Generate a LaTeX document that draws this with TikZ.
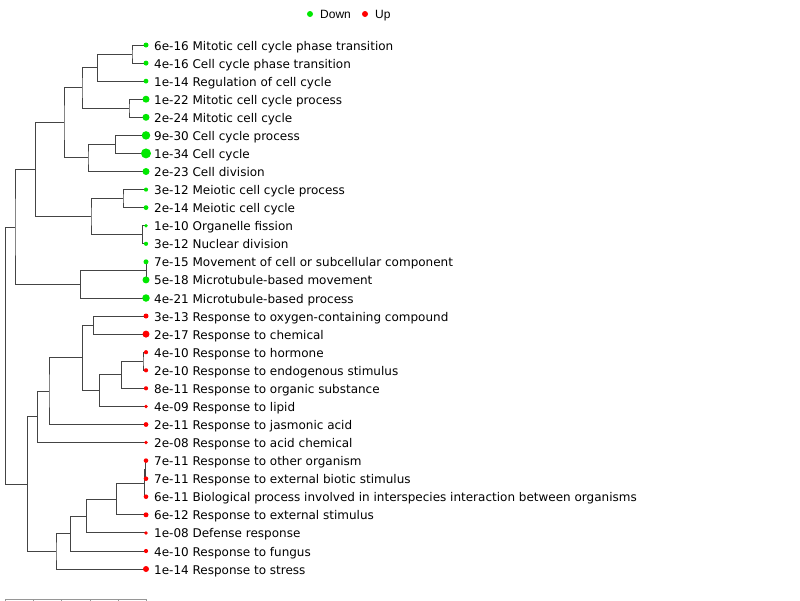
\documentclass[tikz,border=0pt]{standalone}
\usepackage{fontspec}
\setmainfont{DejaVu Sans}
\newfontfamily\legfont{Liberation Sans}
\usepackage{tikz}
\usetikzlibrary{backgrounds}
\definecolor{dngreen}{RGB}{0,232,0}
\definecolor{upred}{RGB}{255,0,0}
\definecolor{branch}{RGB}{68,68,68}
\definecolor{axisgray}{RGB}{150,150,150}

\begin{document}
\begin{tikzpicture}[x=1pt,y=-1pt,
  dot/.style={circle,inner sep=0pt,minimum size=#1},
  dnpt/.style={dot=#1,fill=dngreen},
  uppt/.style={dot=#1,fill=upred},
  term/.style={anchor=base west,inner sep=0pt,font=\fontsize{12}{14}\selectfont},
  legtxt/.style={anchor=base west,inner sep=0pt,font=\legfont\fontsize{12}{14}\selectfont},
  br/.style={draw=branch,line width=1pt}]
\useasboundingbox (0,0) rectangle (800,600);

% legend
\node[dnpt=6pt] (kdn) at (310,14) {};
\node[legtxt] (ldn) at (320,18.3) {Down};
\node[uppt=6pt] (kup) at (365,14) {};
\node[legtxt] (lup) at (375,18.3) {Up};

% down-regulated terms
\node[dnpt=5pt] (g1) at (146,45) {};
\node[term] (tg1) at (154,50) {6e-16 Mitotic cell cycle phase transition};
\node[dnpt=5pt] (g2) at (146,63.1) {};
\node[term] (tg2) at (154,68.1) {4e-16 Cell cycle phase transition};
\node[dnpt=4.8pt] (g3) at (146,81.1) {};
\node[term] (tg3) at (154,86.1) {1e-14 Regulation of cell cycle};
\node[dnpt=7pt] (g4) at (146,99.2) {};
\node[term] (tg4) at (154,104.2) {1e-22 Mitotic cell cycle process};
\node[dnpt=7pt] (g5) at (146,117.3) {};
\node[term] (tg5) at (154,122.3) {2e-24 Mitotic cell cycle};
\node[dnpt=8.5pt] (g6) at (146,135.4) {};
\node[term] (tg6) at (154,140.4) {9e-30 Cell cycle process};
\node[dnpt=10pt] (g7) at (146,153.4) {};
\node[term] (tg7) at (154,158.4) {1e-34 Cell cycle};
\node[dnpt=7pt] (g8) at (146,171.5) {};
\node[term] (tg8) at (154,176.5) {2e-23 Cell division};
\node[dnpt=4.2pt] (g9) at (146,189.6) {};
\node[term] (tg9) at (154,194.6) {3e-12 Meiotic cell cycle process};
\node[dnpt=4.8pt] (g10) at (146,207.6) {};
\node[term] (tg10) at (154,212.6) {2e-14 Meiotic cell cycle};
\node[dnpt=3.8pt] (g11) at (146,225.7) {};
\node[term] (tg11) at (154,230.7) {1e-10 Organelle fission};
\node[dnpt=4.2pt] (g12) at (146,243.8) {};
\node[term] (tg12) at (154,248.8) {3e-12 Nuclear division};
\node[dnpt=5pt] (g13) at (146,261.8) {};
\node[term] (tg13) at (154,266.8) {7e-15 Movement of cell or subcellular component};
\node[dnpt=7pt] (g14) at (146,279.9) {};
\node[term] (tg14) at (154,284.9) {5e-18 Microtubule-based movement};
\node[dnpt=7.5pt] (g15) at (146,298) {};
\node[term] (tg15) at (154,303) {4e-21 Microtubule-based process};

% up-regulated terms
\node[uppt=5pt] (r1) at (146,316) {};
\node[term] (tr1) at (154,321) {3e-13 Response to oxygen-containing compound};
\node[uppt=7pt] (r2) at (146,334.1) {};
\node[term] (tr2) at (154,339.1) {2e-17 Response to chemical};
\node[uppt=4.2pt] (r3) at (146,352.2) {};
\node[term] (tr3) at (154,357.2) {4e-10 Response to hormone};
\node[uppt=4.2pt] (r4) at (146,370.3) {};
\node[term] (tr4) at (154,375.3) {2e-10 Response to endogenous stimulus};
\node[uppt=4.2pt] (r5) at (146,388.3) {};
\node[term] (tr5) at (154,393.3) {8e-11 Response to organic substance};
\node[uppt=3.8pt] (r6) at (146,406.4) {};
\node[term] (tr6) at (154,411.4) {4e-09 Response to lipid};
\node[uppt=4.8pt] (r7) at (146,424.5) {};
\node[term] (tr7) at (154,429.5) {2e-11 Response to jasmonic acid};
\node[uppt=3.8pt] (r8) at (146,442.5) {};
\node[term] (tr8) at (154,447.5) {2e-08 Response to acid chemical};
\node[uppt=4.6pt] (r9) at (146,460.6) {};
\node[term] (tr9) at (154,465.6) {7e-11 Response to other organism};
\node[uppt=4.6pt] (r10) at (146,478.7) {};
\node[term] (tr10) at (154,483.7) {7e-11 Response to external biotic stimulus};
\node[uppt=4.6pt] (r11) at (146,496.7) {};
\node[term] (tr11) at (154,501.7) {6e-11 Biological process involved in interspecies interaction between organisms};
\node[uppt=5pt] (r12) at (146,514.8) {};
\node[term] (tr12) at (154,519.8) {6e-12 Response to external stimulus};
\node[uppt=3.8pt] (r13) at (146,532.9) {};
\node[term] (tr13) at (154,537.9) {1e-08 Defense response};
\node[uppt=4.2pt] (r14) at (146,551) {};
\node[term] (tr14) at (154,556) {4e-10 Response to fungus};
\node[uppt=6pt] (r15) at (146,569) {};
\node[term] (tr15) at (154,574) {1e-14 Response to stress};

% joins of the tree
\coordinate (jA) at (132,54);
\coordinate (jB) at (97.3,67.6);
\coordinate (jC) at (129,108.25);
\coordinate (jD) at (82,87.9);
\coordinate (jE) at (115.7,144.4);
\coordinate (jF) at (88,157.9);
\coordinate (jG) at (64,122.9);
\coordinate (jH) at (123,198.6);
\coordinate (jI) at (142.5,234.75);
\coordinate (jJ) at (91,216.7);
\coordinate (jK) at (35.7,169.8);
\coordinate (jL) at (146,270.85);
\coordinate (jM) at (80.7,284.4);
\coordinate (jN) at (15,227.1);
\coordinate (jO) at (93.3,325.05);
\coordinate (jP) at (143,361.25);
\coordinate (jQ) at (121.7,374.8);
\coordinate (jR) at (99.7,390.6);
\coordinate (jS) at (82.7,357.8);
\coordinate (jT) at (49,391.15);
\coordinate (jU) at (37.3,416.8);
\coordinate (jV) at (145.8,469.65);
\coordinate (jW) at (144.3,483.2);
\coordinate (jX) at (116.7,499);
\coordinate (jY) at (86.7,516);
\coordinate (jZ) at (70.7,533.5);
\coordinate (jZa) at (56,551.25);
\coordinate (jZb) at (27.3,484);
\coordinate (root) at (5.7,355.5);

% each join: one path from upper child to lower child
\begin{scope}[on background layer]
\draw[br] (g1.center) -| (jA) |- (g2.center);
\draw[br] (jA) -| (jB) |- (g3.center);
\draw[br] (g4.center) -| (jC) |- (g5.center);
\draw[br] (jB) -| (jD) |- (jC);
\draw[br] (g6.center) -| (jE) |- (g7.center);
\draw[br] (jE) -| (jF) |- (g8.center);
\draw[br] (jD) -| (jG) |- (jF);
\draw[br] (g9.center) -| (jH) |- (g10.center);
\draw[br] (g11.center) -| (jI) |- (g12.center);
\draw[br] (jH) -| (jJ) |- (jI);
\draw[br] (jG) -| (jK) |- (jJ);
\draw[br] (g13.center) -- (g14.center);
\draw[br] (jL) -| (jM) |- (g15.center);
\draw[br] (jK) -| (jN) |- (jM);
\draw[br] (r1.center) -| (jO) |- (r2.center);
\draw[br] (r3.center) -| (jP) |- (r4.center);
\draw[br] (jP) -| (jQ) |- (r5.center);
\draw[br] (jQ) -| (jR) |- (r6.center);
\draw[br] (jO) -| (jS) |- (jR);
\draw[br] (jS) -| (jT) |- (r7.center);
\draw[br] (jT) -| (jU) |- (r8.center);
\draw[br] (r9.center) -| (jV) |- (r10.center);
\draw[br] (jV) -| (jW) |- (r11.center);
\draw[br] (jW) -| (jX) |- (r12.center);
\draw[br] (jX) -| (jY) |- (r13.center);
\draw[br] (jY) -| (jZ) |- (r14.center);
\draw[br] (jZ) -| (jZa) |- (r15.center);
\draw[br] (jU) -| (jZb) |- (jZa);
\draw[br] (jN) -| (root) |- (jZb);
\end{scope}

% scale bar
\draw[axisgray,line width=1pt] (5,599) -- (146.7,599);
\foreach \tx in {5,33.3,61.7,90,118.3,146.7}
  \draw[axisgray,line width=1pt] (\tx,599) -- (\tx,605);
\end{tikzpicture}
\end{document}
